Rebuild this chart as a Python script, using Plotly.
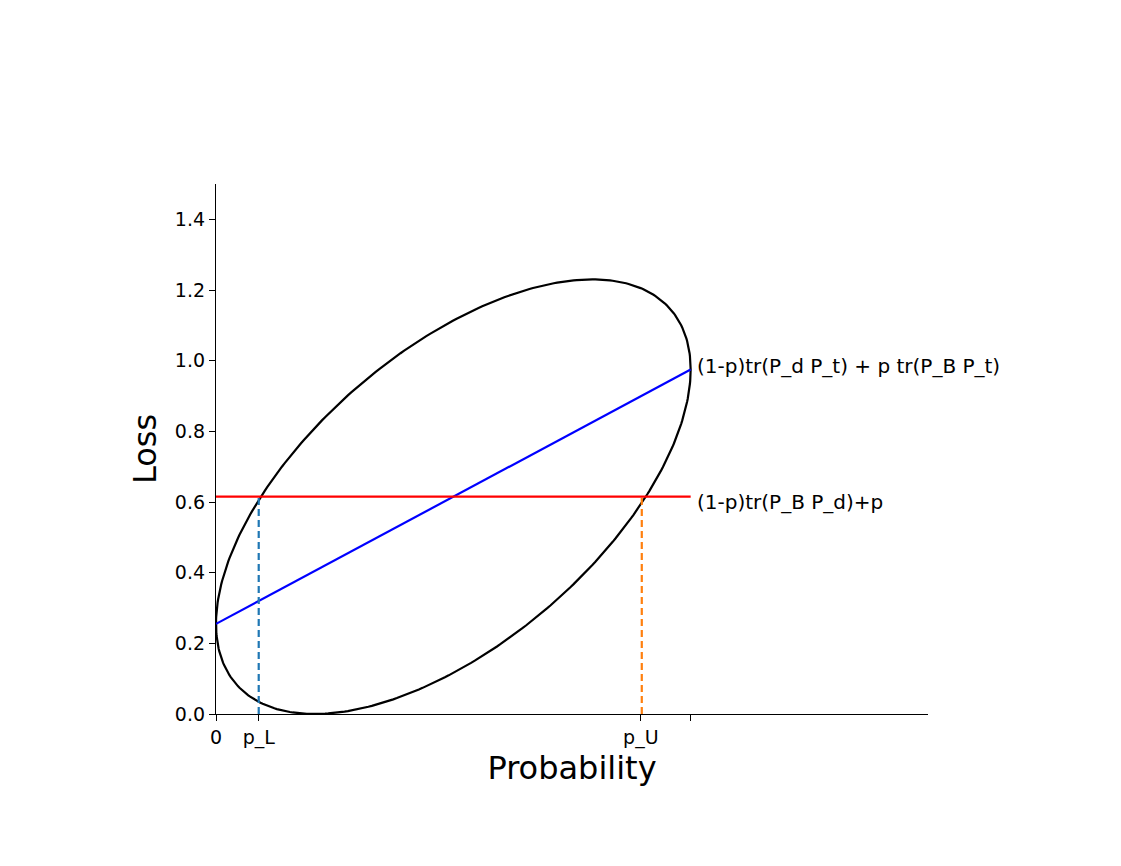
import numpy as np
import plotly.graph_objects as go

# Values
x_ticks = [0.0, 0.09, 0.895, 1.0]
x_tick_labels = ["0", "p_L", "p_U", ""]
y_ticks = [0.0, 0.2, 0.4, 0.6, 0.8, 1.0, 1.2, 1.4]

ellipse_left = (0.0, 0.255)
ellipse_right = (1.0, 0.975)
ellipse_top_y = 1.23

blue_x = [0.0, 1.0]
blue_y = [0.255, 0.975]
red_x = [0.0, 1.0]
red_y = [0.615, 0.615]

p_L = 0.09
p_U = 0.897
threshold = 0.615

label_blue = "(1-p)tr(P_d P_t) + p tr(P_B P_t)"
label_red = "(1-p)tr(P_B P_d)+p"

FONT = "DejaVu Sans"

# Ellipse through the read extremes
xc = (ellipse_left[0] + ellipse_right[0]) / 2
rx = (ellipse_right[0] - ellipse_left[0]) / 2
yc = (ellipse_left[1] + ellipse_right[1]) / 2
a = ellipse_right[1] - yc
r = ellipse_top_y - yc
b = np.sqrt(r ** 2 - a ** 2)
t = np.linspace(0, 2 * np.pi, 400)
ex = xc + rx * np.cos(t)
ey = yc + a * np.cos(t) + b * np.sin(t)

fig = go.Figure()
fig.add_trace(go.Scatter(x=ex, y=ey, mode="lines", line=dict(color="black", width=2.2), hoverinfo="skip"))
fig.add_trace(go.Scatter(x=blue_x, y=blue_y, mode="lines", line=dict(color="blue", width=2.2), hoverinfo="skip"))
fig.add_trace(go.Scatter(x=red_x, y=red_y, mode="lines", line=dict(color="red", width=2.2), hoverinfo="skip"))
fig.add_trace(go.Scatter(x=[p_L, p_L], y=[0, threshold], mode="lines",
                         line=dict(color="#1f77b4", width=2.2, dash="7px,4px"), hoverinfo="skip"))
fig.add_trace(go.Scatter(x=[p_U, p_U], y=[0, threshold], mode="lines",
                         line=dict(color="#ff7f0e", width=2.2, dash="7px,4px"), hoverinfo="skip"))

for yy, txt, dy in [(blue_y[-1], label_blue, 4), (red_y[-1], label_red, -5)]:
    fig.add_annotation(x=blue_x[-1], y=yy, text=txt, showarrow=False, xanchor="left",
                       yanchor="middle", xshift=4, yshift=dy,
                       font=dict(family=FONT, size=20, color="black"))

axis_common = dict(
    showline=True, linecolor="black", linewidth=1.3, showgrid=False, zeroline=False,
    ticks="outside", ticklen=6, tickwidth=1.3, tickcolor="black",
    tickfont=dict(family=FONT, size=19, color="black"),
)

fig.update_layout(
    width=1121, height=866,
    margin=dict(l=208, r=201, t=176, b=160),
    plot_bgcolor="white", paper_bgcolor="white",
    showlegend=False,
    xaxis=dict(range=[0, 1.5], tickvals=x_ticks, ticktext=x_tick_labels,
               title=dict(text="Probability", font=dict(family=FONT, size=32, color="black"), standoff=6),
               **axis_common),
    yaxis=dict(range=[0, 1.5], tickvals=y_ticks, tickformat=".1f",
               title=dict(text="Loss", font=dict(family=FONT, size=32, color="black"), standoff=8),
               **axis_common),
)

fig.write_html("out.html")
